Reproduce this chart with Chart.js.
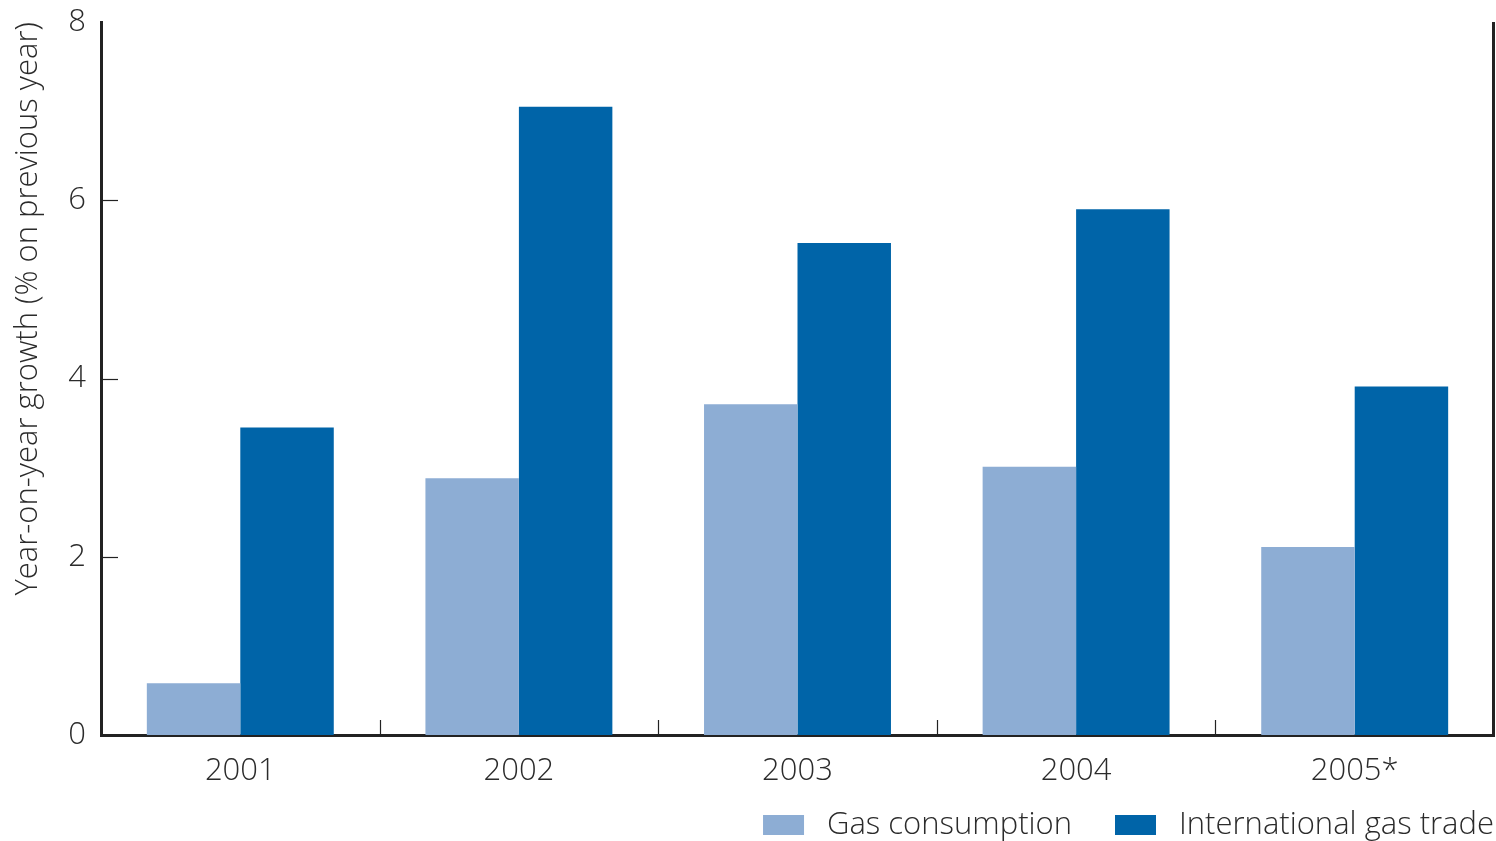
<!DOCTYPE html>
<html>
<head>
<meta charset="utf-8">
<script src="https://cdn.jsdelivr.net/npm/chart.js@4.4.1/dist/chart.umd.min.js"></script>
<style>
  html, body { margin: 0; padding: 0; background: #ffffff; }
  #wrap { width: 1496px; height: 841px; position: relative; }
</style>
</head>
<body>
<div id="wrap"><canvas id="c" width="1496" height="841"></canvas></div>
<script>
const categories = ['2001', '2002', '2003', '2004', '2005*'];
const gasConsumption = [0.58, 2.88, 3.71, 3.01, 2.11];
const internationalGasTrade = [3.45, 7.05, 5.52, 5.90, 3.91];
const seriesLabels = ['Gas consumption', 'International gas trade'];
const yTicks = [0, 2, 4, 6, 8];
const axisTitle = 'Year-on-year growth (% on previous year)';

const FONT = "'Open Sans', 'DejaVu Sans', sans-serif";
const TEXT = '#2b2b2b';
const AXIS = '#222222';

const decorPlugin = {
  id: 'decor',
  afterDatasetsDraw(chart) {
    const ctx = chart.ctx;
    const ca = chart.chartArea;
    const xs = chart.scales.x, ys = chart.scales.y;
    ctx.save();
    ctx.strokeStyle = AXIS;
    ctx.lineWidth = 3;
    ctx.beginPath();
    ctx.moveTo(ca.right - 0.5, ca.top);
    ctx.lineTo(ca.right - 0.5, ca.bottom);
    ctx.stroke();
    ctx.lineWidth = 1.2;
    yTicks.forEach(v => {
      if (v === 0 || v === 8) return;
      const y = Math.round(ys.getPixelForValue(v)) + 0.5;
      ctx.beginPath();
      ctx.moveTo(ca.left, y);
      ctx.lineTo(ca.left + 17, y);
      ctx.stroke();
    });
    for (let i = 0; i < categories.length - 1; i++) {
      const x = Math.round((xs.getPixelForValue(i) + xs.getPixelForValue(i + 1)) / 2) + 0.5;
      ctx.beginPath();
      ctx.moveTo(x, ca.bottom);
      ctx.lineTo(x, ca.bottom - 15);
      ctx.stroke();
    }
    ctx.restore();
  },
  afterDraw(chart) {
    const ctx = chart.ctx;
    ctx.save();
    ctx.font = '300 31px ' + FONT;
    const boxW = 41, boxH = 20, gapText = 23, gapItem = 43;
    const items = chart.data.datasets.map(d => ({ label: d.label, color: d.backgroundColor }));
    let total = 0;
    items.forEach((it, i) => {
      it.tw = ctx.measureText(it.label).width;
      total += boxW + gapText + it.tw + (i < items.length - 1 ? gapItem : 0);
    });
    let x = 1494 - total;
    const cy = 825;
    items.forEach(it => {
      ctx.fillStyle = it.color;
      ctx.fillRect(x, cy - boxH / 2, boxW, boxH);
      x += boxW + gapText;
      ctx.fillStyle = TEXT;
      ctx.textBaseline = 'middle';
      ctx.textAlign = 'left';
      ctx.fillText(it.label, x, cy);
      x += it.tw + gapItem;
    });
    ctx.restore();
  }
};

new Chart(document.getElementById('c'), {
  type: 'bar',
  data: {
    labels: categories,
    datasets: [
      { label: seriesLabels[0], data: gasConsumption, backgroundColor: '#8DADD4' },
      { label: seriesLabels[1], data: internationalGasTrade, backgroundColor: '#0064A8' }
    ]
  },
  options: {
    responsive: false,
    animation: false,
    devicePixelRatio: 1,
    layout: { padding: { top: 22, right: 2, left: 0, bottom: 0 } },
    categoryPercentage: 0.671,
    barPercentage: 1.0,
    plugins: {
      legend: { display: false },
      tooltip: { enabled: false }
    },
    scales: {
      x: {
        grid: { display: false, drawTicks: false },
        border: { display: true, color: AXIS, width: 3 },
        ticks: { color: TEXT, font: { family: FONT, size: 31, weight: '300' }, padding: 18, maxRotation: 0 },
        afterFit(scale) { scale.height = 106; scale.paddingLeft = 0; scale.paddingRight = 0; }
      },
      y: {
        min: 0, max: 8,
        afterBuildTicks(scale) { scale.ticks = yTicks.map(v => ({ value: v })); },
        grid: { display: false, drawTicks: false },
        border: { display: true, color: AXIS, width: 3 },
        ticks: { color: TEXT, font: { family: FONT, size: 31, weight: '300' }, padding: 15 },
        title: {
          display: true, text: axisTitle, align: 'end', color: TEXT,
          font: { family: FONT, size: 31, weight: '300' }, padding: { top: 10, bottom: 0 }
        },
        afterFit(scale) { scale.width = 101; scale.paddingTop = 0; scale.paddingBottom = 0; }
      }
    }
  },
  plugins: [decorPlugin]
});
</script>
</body>
</html>
